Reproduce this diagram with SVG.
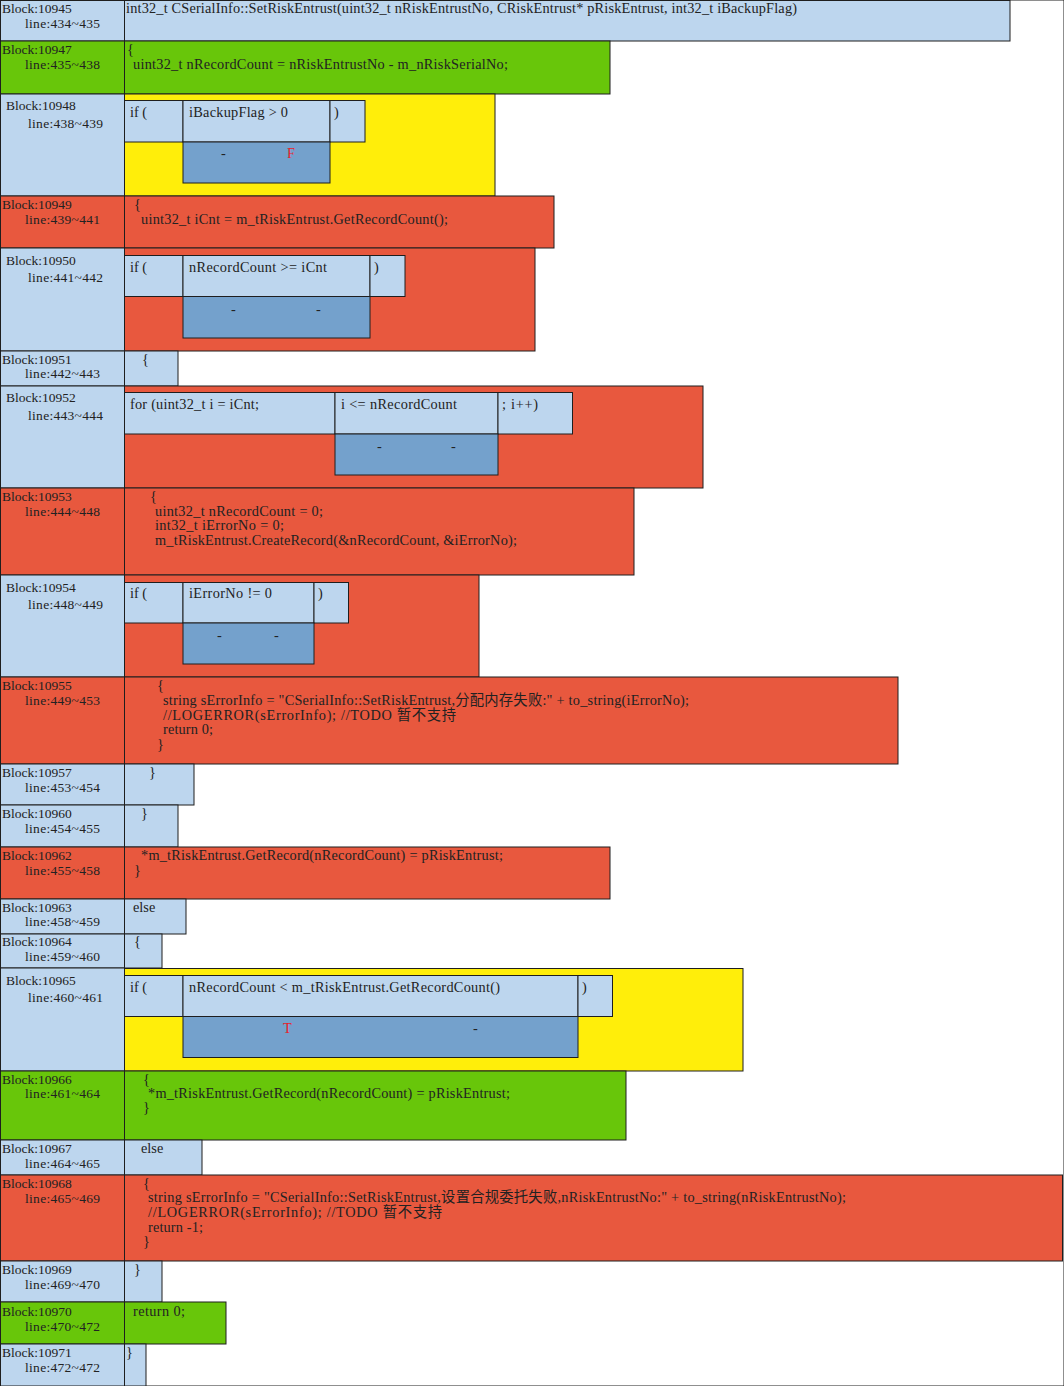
<svg xmlns="http://www.w3.org/2000/svg" width="1064" height="1386" viewBox="0 0 1064 1386">
  <style>
    rect { stroke: #1e1e1e; stroke-width: 1; }
    .lb { fill: #BDD6EE; }
    .gr { fill: #68C60A; }
    .rd { fill: #E8583E; }
    .yl { fill: #FFEE0A; }
    .db { fill: #74A1CC; }
    text { font-family: "Liberation Serif", "Noto Sans CJK SC", serif; font-size: 13.5px; fill: #222; }
    .c { font-size: 14.3px; }
    .f { fill: #E8202A; }
  </style>
  <rect x="0" y="0" width="1064" height="1386" fill="#fff" stroke="none"/>

  <!-- Block 10945: function signature -->
  <g id="b10945">
    <rect class="lb" x="0.5" y="0.5" width="124" height="40.5"/>
    <rect class="lb" x="124.5" y="0.5" width="885.5" height="40.5"/>
    <text x="2" y="13">Block:10945</text>
    <text x="25" y="28" textLength="75">line:434~435</text>
    <text class="c" x="126" y="13" textLength="671">int32_t CSerialInfo::SetRiskEntrust(uint32_t nRiskEntrustNo, CRiskEntrust* pRiskEntrust, int32_t iBackupFlag)</text>
  </g>

  <g id="b10947">
    <rect class="gr" x="0.5" y="41" width="124" height="53"/>
    <rect class="gr" x="124.5" y="41" width="485.5" height="53"/>
    <text x="2" y="54">Block:10947</text>
    <text x="25" y="69" textLength="75">line:435~438</text>
    <text class="c" x="127" y="54">{</text>
    <text class="c" x="133" y="69" textLength="375">uint32_t nRecordCount = nRiskEntrustNo - m_nRiskSerialNo;</text>
  </g>

  <g id="b10948">
    <rect class="lb" x="0.5" y="94" width="124" height="102"/>
    <rect class="yl" x="124.5" y="94" width="370.5" height="102"/>
    <rect class="lb" x="124.5" y="100.5" width="58.5" height="41.5"/>
    <rect class="lb" x="183" y="100.5" width="147" height="41.5"/>
    <rect class="lb" x="330" y="100.5" width="35" height="41.5"/>
    <rect class="db" x="183" y="142" width="147" height="41"/>
    <text x="6" y="110">Block:10948</text>
    <text x="28" y="128" textLength="75">line:438~439</text>
    <text class="c" x="130" y="117">if (</text>
    <text class="c" x="189" y="117" textLength="99">iBackupFlag &gt; 0</text>
    <text class="c" x="334" y="117">)</text>
    <text class="c" x="221" y="158">-</text>
    <text class="c f" x="287" y="158">F</text>
  </g>

  <g id="b10949">
    <rect class="rd" x="0.5" y="196" width="124" height="52"/>
    <rect class="rd" x="124.5" y="196" width="429.5" height="52"/>
    <text x="2" y="209">Block:10949</text>
    <text x="25" y="224" textLength="75">line:439~441</text>
    <text class="c" x="134" y="209">{</text>
    <text class="c" x="141" y="224" textLength="307">uint32_t iCnt = m_tRiskEntrust.GetRecordCount();</text>
  </g>

  <g id="b10950">
    <rect class="lb" x="0.5" y="248" width="124" height="103"/>
    <rect class="rd" x="124.5" y="248" width="410.5" height="103"/>
    <rect class="lb" x="124.5" y="255.5" width="58.5" height="41"/>
    <rect class="lb" x="183" y="255.5" width="187" height="41"/>
    <rect class="lb" x="370" y="255.5" width="35" height="41"/>
    <rect class="db" x="183" y="296.5" width="187" height="41.5"/>
    <text x="6" y="265">Block:10950</text>
    <text x="28" y="282" textLength="75">line:441~442</text>
    <text class="c" x="130" y="272">if (</text>
    <text class="c" x="189" y="272" textLength="138">nRecordCount &gt;= iCnt</text>
    <text class="c" x="374" y="272">)</text>
    <text class="c" x="231" y="314">-</text>
    <text class="c" x="316" y="314">-</text>
  </g>

  <g id="b10951">
    <rect class="lb" x="0.5" y="351" width="124" height="35"/>
    <rect class="lb" x="124.5" y="351" width="53.5" height="35"/>
    <text x="2" y="364">Block:10951</text>
    <text x="25" y="378" textLength="75">line:442~443</text>
    <text class="c" x="142" y="364">{</text>
  </g>

  <g id="b10952">
    <rect class="lb" x="0.5" y="386" width="124" height="102"/>
    <rect class="rd" x="124.5" y="386" width="578.5" height="102"/>
    <rect class="lb" x="124.5" y="392.5" width="210.5" height="41.5"/>
    <rect class="lb" x="335" y="392.5" width="163" height="41.5"/>
    <rect class="lb" x="498" y="392.5" width="74.5" height="41.5"/>
    <rect class="db" x="335" y="434" width="163" height="41"/>
    <text x="6" y="402">Block:10952</text>
    <text x="28" y="420" textLength="75">line:443~444</text>
    <text class="c" x="130" y="409" textLength="129">for (uint32_t i = iCnt;</text>
    <text class="c" x="341" y="409" textLength="116">i &lt;= nRecordCount</text>
    <text class="c" x="502" y="409" textLength="36">; i++)</text>
    <text class="c" x="377" y="451">-</text>
    <text class="c" x="451" y="451">-</text>
  </g>

  <g id="b10953">
    <rect class="rd" x="0.5" y="488" width="124" height="87"/>
    <rect class="rd" x="124.5" y="488" width="509.5" height="87"/>
    <text x="2" y="501">Block:10953</text>
    <text x="25" y="516" textLength="75">line:444~448</text>
    <text class="c" x="150" y="501">{</text>
    <text class="c" x="155" y="516" textLength="168">uint32_t nRecordCount = 0;</text>
    <text class="c" x="155" y="530" textLength="129">int32_t iErrorNo = 0;</text>
    <text class="c" x="155" y="545" textLength="362">m_tRiskEntrust.CreateRecord(&amp;nRecordCount, &amp;iErrorNo);</text>
  </g>

  <g id="b10954">
    <rect class="lb" x="0.5" y="575" width="124" height="102"/>
    <rect class="rd" x="124.5" y="575" width="354.5" height="102"/>
    <rect class="lb" x="124.5" y="582.5" width="58.5" height="40.5"/>
    <rect class="lb" x="183" y="582.5" width="131" height="40.5"/>
    <rect class="lb" x="314" y="582.5" width="34.5" height="40.5"/>
    <rect class="db" x="183" y="623" width="131" height="41"/>
    <text x="6" y="592">Block:10954</text>
    <text x="28" y="609" textLength="75">line:448~449</text>
    <text class="c" x="130" y="598">if (</text>
    <text class="c" x="189" y="598" textLength="83">iErrorNo != 0</text>
    <text class="c" x="318" y="598">)</text>
    <text class="c" x="217" y="640">-</text>
    <text class="c" x="274" y="640">-</text>
  </g>

  <g id="b10955">
    <rect class="rd" x="0.5" y="677" width="124" height="87"/>
    <rect class="rd" x="124.5" y="677" width="773.5" height="87"/>
    <text x="2" y="690">Block:10955</text>
    <text x="25" y="705" textLength="75">line:449~453</text>
    <text class="c" x="157" y="690">{</text>
    <text class="c" x="163" y="705" textLength="526">string sErrorInfo = "CSerialInfo::SetRiskEntrust,分配内存失败:" + to_string(iErrorNo);</text>
    <text class="c" x="163" y="720" textLength="293">//LOGERROR(sErrorInfo); //TODO 暂不支持</text>
    <text class="c" x="163" y="734" textLength="50">return 0;</text>
    <text class="c" x="157" y="749">}</text>
  </g>

  <g id="b10957">
    <rect class="lb" x="0.5" y="764" width="124" height="41"/>
    <rect class="lb" x="124.5" y="764" width="69.5" height="41"/>
    <text x="2" y="777">Block:10957</text>
    <text x="25" y="792" textLength="75">line:453~454</text>
    <text class="c" x="149" y="777">}</text>
  </g>

  <g id="b10960">
    <rect class="lb" x="0.5" y="805" width="124" height="42"/>
    <rect class="lb" x="124.5" y="805" width="53.5" height="42"/>
    <text x="2" y="818">Block:10960</text>
    <text x="25" y="833" textLength="75">line:454~455</text>
    <text class="c" x="141" y="818">}</text>
  </g>

  <g id="b10962">
    <rect class="rd" x="0.5" y="847" width="124" height="52"/>
    <rect class="rd" x="124.5" y="847" width="485.5" height="52"/>
    <text x="2" y="860">Block:10962</text>
    <text x="25" y="875" textLength="75">line:455~458</text>
    <text class="c" x="141" y="860" textLength="362">*m_tRiskEntrust.GetRecord(nRecordCount) = pRiskEntrust;</text>
    <text class="c" x="134" y="875">}</text>
  </g>

  <g id="b10963">
    <rect class="lb" x="0.5" y="899" width="124" height="35"/>
    <rect class="lb" x="124.5" y="899" width="61.5" height="35"/>
    <text x="2" y="912">Block:10963</text>
    <text x="25" y="926" textLength="75">line:458~459</text>
    <text class="c" x="133" y="912">else</text>
  </g>

  <g id="b10964">
    <rect class="lb" x="0.5" y="934" width="124" height="34"/>
    <rect class="lb" x="124.5" y="934" width="37.5" height="34"/>
    <text x="2" y="946">Block:10964</text>
    <text x="25" y="961" textLength="75">line:459~460</text>
    <text class="c" x="134" y="946">{</text>
  </g>

  <g id="b10965">
    <rect class="lb" x="0.5" y="968" width="124" height="103"/>
    <rect class="yl" x="124.5" y="968.5" width="618.5" height="102.5"/>
    <rect class="lb" x="124.5" y="975.5" width="58.5" height="41"/>
    <rect class="lb" x="183" y="975.5" width="395" height="41"/>
    <rect class="lb" x="578" y="975.5" width="34.5" height="41"/>
    <rect class="db" x="183" y="1016.5" width="395" height="41"/>
    <text x="6" y="985">Block:10965</text>
    <text x="28" y="1002" textLength="75">line:460~461</text>
    <text class="c" x="130" y="992">if (</text>
    <text class="c" x="189" y="992" textLength="311">nRecordCount &lt; m_tRiskEntrust.GetRecordCount()</text>
    <text class="c" x="582" y="992">)</text>
    <text class="c f" x="283" y="1033">T</text>
    <text class="c" x="473" y="1033">-</text>
  </g>

  <g id="b10966">
    <rect class="gr" x="0.5" y="1071" width="124" height="69"/>
    <rect class="gr" x="124.5" y="1071" width="501.5" height="69"/>
    <text x="2" y="1084">Block:10966</text>
    <text x="25" y="1098" textLength="75">line:461~464</text>
    <text class="c" x="143" y="1084">{</text>
    <text class="c" x="148" y="1098" textLength="362">*m_tRiskEntrust.GetRecord(nRecordCount) = pRiskEntrust;</text>
    <text class="c" x="143" y="1112">}</text>
  </g>

  <g id="b10967">
    <rect class="lb" x="0.5" y="1140" width="124" height="35"/>
    <rect class="lb" x="124.5" y="1140" width="77.5" height="35"/>
    <text x="2" y="1153">Block:10967</text>
    <text x="25" y="1168" textLength="75">line:464~465</text>
    <text class="c" x="141" y="1153">else</text>
  </g>

  <g id="b10968">
    <rect class="rd" x="0.5" y="1175" width="124" height="86"/>
    <rect class="rd" x="124.5" y="1175" width="938" height="86"/>
    <text x="2" y="1188">Block:10968</text>
    <text x="25" y="1203" textLength="75">line:465~469</text>
    <text class="c" x="143" y="1188">{</text>
    <text class="c" x="148" y="1202" textLength="698">string sErrorInfo = "CSerialInfo::SetRiskEntrust,设置合规委托失败,nRiskEntrustNo:" + to_string(nRiskEntrustNo);</text>
    <text class="c" x="148" y="1217" textLength="294">//LOGERROR(sErrorInfo); //TODO 暂不支持</text>
    <text class="c" x="148" y="1232" textLength="55">return -1;</text>
    <text class="c" x="143" y="1246">}</text>
  </g>

  <g id="b10969">
    <rect class="lb" x="0.5" y="1261" width="124" height="41"/>
    <rect class="lb" x="124.5" y="1261" width="37.5" height="41"/>
    <text x="2" y="1274">Block:10969</text>
    <text x="25" y="1289" textLength="75">line:469~470</text>
    <text class="c" x="134" y="1274">}</text>
  </g>

  <g id="b10970">
    <rect class="gr" x="0.5" y="1302" width="124" height="42"/>
    <rect class="gr" x="124.5" y="1302" width="101.5" height="42"/>
    <text x="2" y="1316">Block:10970</text>
    <text x="25" y="1331" textLength="75">line:470~472</text>
    <text class="c" x="133" y="1316" textLength="52">return 0;</text>
  </g>

  <g id="b10971">
    <rect class="lb" x="0.5" y="1344" width="124" height="42"/>
    <rect class="lb" x="124.5" y="1344" width="21.5" height="42"/>
    <text x="2" y="1357">Block:10971</text>
    <text x="25" y="1372" textLength="75">line:472~472</text>
    <text class="c" x="126" y="1357">}</text>
  </g>
</svg>
